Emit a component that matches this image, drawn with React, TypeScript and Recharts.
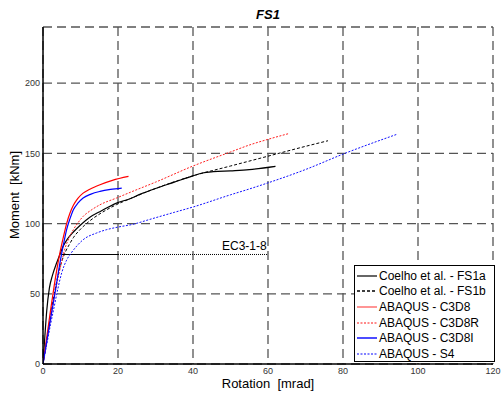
import { CartesianGrid, Legend, Line, LineChart, XAxis, YAxis } from "recharts";

// rotation [mrad], moment [kNm]
const coelhoFS1a = [[0, 0], [0.5, 20], [1, 38], [1.7, 54], [2.5, 63], [3.5, 71], [4.5, 78], [5.4, 84], [6.5, 89], [8.1, 94], [10, 99], [12.5, 104.5], [15.5, 109], [19.6, 114.6], [23.2, 117.7], [26, 121], [30, 125], [35, 129.5], [40, 134], [42.5, 136], [45.4, 137], [50, 137.6], [55, 138.4], [62, 140.7]];
const coelhoFS1b = [[0, 0], [1, 17], [2, 34], [3, 50], [4, 63], [5, 73], [6, 80], [7, 85], [8.1, 90], [10, 96], [12.5, 102], [15.5, 107.5], [19.6, 113.5], [23.2, 117.7], [30, 125], [40, 134], [50, 141], [60, 148], [70, 155], [76, 159]];
const abaqusC3D8 = [[0, 0], [1, 19], [2, 38], [3, 56], [4, 72], [4.5, 79], [5.4, 90], [6.3, 100], [7.2, 107.5], [8.1, 113], [9.3, 118], [10.7, 121.7], [12.5, 124.5], [15.2, 127.7], [18.5, 130.8], [22.8, 133.6]];
const abaqusC3D8R = [[0, 0], [1, 16], [2, 32], [3, 47], [4, 61], [5, 73], [5.9, 82.6], [7, 90], [8.1, 95.7], [9.3, 100.5], [10.7, 105.1], [12.8, 109.5], [15.2, 113.4], [19.6, 118.2], [23.2, 122.2], [30, 129.5], [40, 141], [50, 151], [55.2, 156.1], [60, 160], [65.4, 164]];
const abaqusC3D8I = [[0, 0], [1, 16], [2, 32], [3.2, 50.6], [4.2, 67], [5, 79], [5.6, 87], [6.3, 95.7], [7.2, 103.5], [8.1, 109.9], [9.3, 114.5], [10.7, 118.2], [12.8, 121], [15.2, 122.9], [18, 124.3], [21, 125.3]];
const abaqusS4 = [[0, 0], [1, 14], [2, 28], [3, 41], [4, 54], [5, 65], [6.3, 74], [7.5, 79], [9, 84], [10.7, 88.5], [14.3, 93.3], [17, 95.7], [20, 97.5], [24, 99.5], [28.5, 103], [35, 108], [40, 111.8], [50, 120.5], [55.2, 124.8], [60, 129], [70, 138.5], [80.5, 150], [94.5, 163.7]];
const ec3Solid = [[4.7, 78], [20, 78]];
const ec3Dotted = [[20, 78], [60, 78]];

const xTicks = [0, 20, 40, 60, 80, 100, 120];
const yTicks = [0, 50, 100, 150, 200];

const series = [
  { name: "Coelho et al. - FS1a", data: coelhoFS1a, color: "#000000", dash: undefined, width: 1.2 },
  { name: "Coelho et al. - FS1b", data: coelhoFS1b, color: "#000000", dash: "3 2", width: 1 },
  { name: "ABAQUS - C3D8", data: abaqusC3D8, color: "#ff0000", dash: undefined, width: 1.2 },
  { name: "ABAQUS - C3D8R", data: abaqusC3D8R, color: "#ff2020", dash: "2 1.5", width: 1 },
  { name: "ABAQUS - C3D8I", data: abaqusC3D8I, color: "#0000ff", dash: undefined, width: 1.2 },
  { name: "ABAQUS - S4", data: abaqusS4, color: "#1010ff", dash: "2 1.5", width: 1 },
];

const font = "'Liberation Sans', Arial, sans-serif";
const toPts = (rows: number[][]) => rows.map(([x, y]) => ({ x, y }));

function LegendBox() {
  return (
    <div style={{ border: "1.5px solid #000", background: "#fff", width: 139, height: 93, paddingTop: 2, boxSizing: "content-box", fontFamily: font, fontSize: 12 }}>
      {series.map((s) => (
        <div key={s.name} style={{ display: "flex", alignItems: "center", height: 15.6 }}>
          <svg width={24} height={8} style={{ flex: "none" }}>
            <line x1={2} y1={4} x2={22} y2={4} stroke={s.color} strokeOpacity={s.color === "#000000" ? 1 : 0.7} strokeWidth={s.name === "ABAQUS - C3D8I" ? 2 : s.dash ? 1.3 : 1.2} strokeDasharray={s.dash} />
          </svg>
          <span style={{ whiteSpace: "nowrap", color: "#000" }}>{s.name}</span>
        </div>
      ))}
    </div>
  );
}

export default function App() {
  return (
    <div style={{ position: "absolute", left: 0, top: 0, width: 502, height: 396, background: "#fff", fontFamily: font }}>
      <LineChart width={502} height={396} margin={{ top: 27, right: 9, bottom: 12, left: 0 }}>
        <CartesianGrid stroke="#555" strokeWidth={1.3} strokeDasharray="9 5" />
        <XAxis type="number" dataKey="x" domain={[0, 120]} ticks={xTicks} allowDataOverflow height={20} tickSize={0} tickMargin={4} tickLine={false} axisLine={{ stroke: "#000", strokeWidth: 1.5 }} tick={{ fill: "#333", fontSize: 9, fontFamily: font }} />
        <XAxis xAxisId="top" orientation="top" type="number" dataKey="x" domain={[0, 120]} height={0} tick={false} tickLine={false} axisLine={{ stroke: "#000", strokeWidth: 1.5 }} />
        <YAxis type="number" domain={[0, 240]} ticks={yTicks} allowDataOverflow width={43} tickSize={0} tickMargin={3} tickLine={false} axisLine={{ stroke: "#000", strokeWidth: 1.5 }} tick={{ fill: "#333", fontSize: 9, fontFamily: font }} />
        <YAxis yAxisId="right" orientation="right" type="number" domain={[0, 240]} width={0} tick={false} tickLine={false} axisLine={{ stroke: "#000", strokeWidth: 1.5 }} />
        <Line data={toPts(ec3Solid)} dataKey="y" type="linear" stroke="#000" strokeWidth={1.2} dot={false} legendType="none" isAnimationActive={false} />
        <Line data={toPts(ec3Dotted)} dataKey="y" type="linear" stroke="#000" strokeWidth={1} strokeDasharray="1 1" dot={false} legendType="none" isAnimationActive={false} />
        {series.map((s) => (
          <Line key={s.name} name={s.name} data={toPts(s.data)} dataKey="y" type="monotone" stroke={s.color} strokeWidth={s.width} strokeDasharray={s.dash} dot={false} isAnimationActive={false} />
        ))}
        <Legend layout="vertical" align="center" verticalAlign="middle" content={() => <LegendBox />} wrapperStyle={{ position: "absolute", left: 354, top: 265, width: 142, height: 96 }} />
      </LineChart>
      <div style={{ position: "absolute", left: 0, width: 536, top: 8, textAlign: "center", fontSize: 13, lineHeight: "13px", fontWeight: "bold", fontStyle: "italic" }}>FS1</div>
      <div style={{ position: "absolute", left: 0, width: 536, top: 377, textAlign: "center", fontSize: 13, lineHeight: "13px", whiteSpace: "pre" }}>Rotation  [mrad]</div>
      <div style={{ position: "absolute", left: 14, top: 195, fontSize: 13, lineHeight: "13px", whiteSpace: "pre", transform: "translate(-50%, -50%) rotate(-90deg)" }}>Moment  [kNm]</div>
      <div style={{ position: "absolute", left: 222, top: 240, fontSize: 12, lineHeight: "12px", whiteSpace: "pre" }}>EC3-1-8</div>
    </div>
  );
}
